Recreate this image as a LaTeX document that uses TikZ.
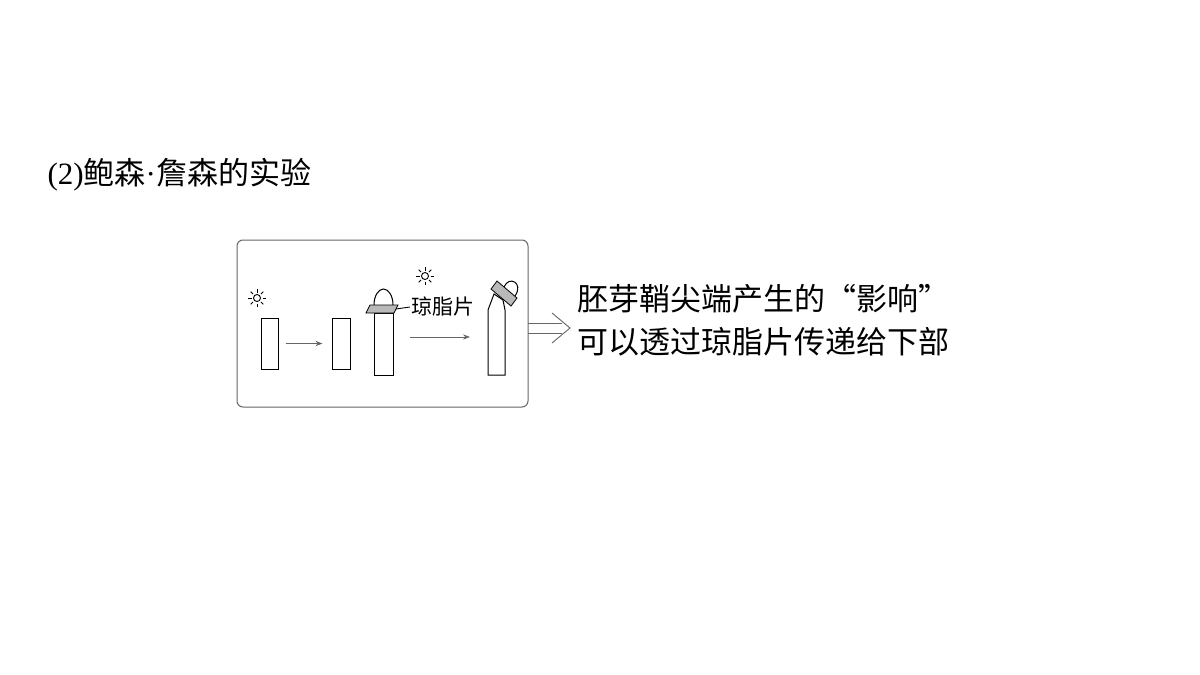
\documentclass[tikz,border=0pt]{standalone}
\usepackage{fontspec}
\setmainfont{Liberation Serif}
\newfontfamily\cjk{Noto Sans CJK SC}
\usetikzlibrary{arrows.meta, positioning, calc}
\tikzset{
  shoot/.style={draw=black, line width=1pt, fill=white},
  slab/.style={draw=black, line width=0.8pt, fill=gray!55},
  arrow/.style={-{Stealth[length=7pt]}, draw=gray!80!black, line width=0.9pt},
  sunray/.style={line width=0.9pt}
}
\newcommand{\sun}[1]{%
  \draw[sunray] (#1) circle (3.5);
  \foreach \a in {0,45,...,315} \draw[sunray] ($(#1)+(\a:5.5)$) -- ($(#1)+(\a:9)$);}
\begin{document}
\begin{tikzpicture}[x=1pt, y=-1pt]
  \useasboundingbox (0,0) rectangle (1200,675);

  \node (title) [anchor=west, font=\fontsize{31}{33}\selectfont] at (44,175) {(2)\cjk 鲍森\rmfamily·\cjk 詹森的实验};

  \draw[draw=gray!80!black, line width=1pt, rounded corners=6] (237,240) rectangle (528,407);

  % first pair
  \coordinate (sunA) at (257,298);
  \sun{sunA}
  \node (s1) [shoot, minimum width=17, minimum height=51, inner sep=0] at (269.5,343.5) {};
  \node (s2) [shoot, minimum width=18, minimum height=51, inner sep=0] at (341,343.5) {};
  \draw[arrow] ($(s1.east)+(7,0)$) -- ($(s2.west)+(-9,0)$);

  % tip on agar
  \node (s3) [shoot, minimum width=19, minimum height=62, inner sep=0, anchor=north] at (383.5,313) {};
  \draw[shoot] (374,305) arc (180:360:9.5 and 16);
  \draw[slab] (370,305) -- (398,305) -- (394,313) -- (366,313) -- cycle;
  \node (agar) [anchor=west, inner sep=1, font=\cjk\fontsize{21}{23}\selectfont] at (410,307) {琼脂片};
  \draw[line width=0.9pt] (396,309) -- (agar.west);

  \coordinate (sunB) at (425,276);
  \sun{sunB}
  \draw[arrow] (410,337) -- (470,337);

  % bent shoot
  \draw[shoot] (488,375) -- (488,310) -- (494,294) -- (503,300) -- (505,310) -- (505,375) -- cycle;
  \draw[shoot] (504,287) .. controls (509,275) and (524,283) .. (515,296);
  \draw[slab] (491,289) -- (497,281) -- (517,298) -- (511,306) -- cycle;

  % result
  \coordinate (dA) at (528,323);
  \coordinate (dB) at (528,333);
  \draw[draw=gray!80!black, line width=0.9pt] (dA) -- ++(34,0) (dB) -- ++(34,0);
  \draw[draw=gray!80!black, line width=0.9pt] (552,313) -- (570,328) -- (552,343);
  \node (res) [anchor=north west, align=left, inner sep=0, font=\cjk\fontsize{31}{43}\selectfont] at (577,284) {胚芽鞘尖端产生的“影响”\\可以透过琼脂片传递给下部};
\end{tikzpicture}
\end{document}
